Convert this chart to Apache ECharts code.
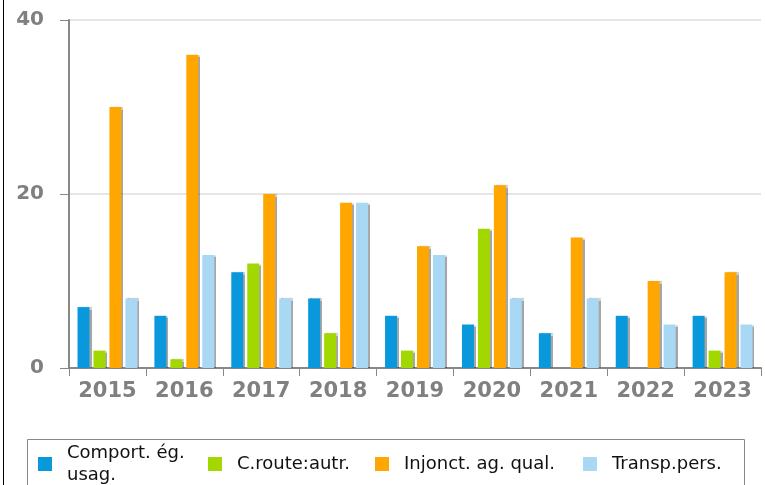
<!DOCTYPE html>
<html>
<head>
<meta charset="utf-8">
<script src="https://cdn.jsdelivr.net/npm/echarts@6/dist/echarts.min.js"></script>
<style>
  html, body { margin: 0; padding: 0; background: #fff; }
  #chart { width: 765px; height: 485px; }
</style>
</head>
<body>
<div id="chart"></div>
<script>
// data
const years = ['2015', '2016', '2017', '2018', '2019', '2020', '2021', '2022', '2023']
const comportEg = [7, 6, 11, 8, 6, 5, 4, 6, 6]
const crouteAutr = [2, 1, 12, 4, 2, 16, 0, 0, 2]
const injonctAg = [30, 36, 20, 19, 14, 21, 15, 10, 11]
const transpPers = [8, 13, 8, 19, 13, 8, 8, 5, 5]
const yTicks = [0, 20, 40]

const names = ['Comport. ég.\nusag.', 'C.route:autr.', 'Injonct. ag. qual.', 'Transp.pers.']
const colors = ['#0a98dc', '#a2d800', '#ffa600', '#a8d8f4']
const seriesData = [comportEg, crouteAutr, injonctAg, transpPers]
// legend icon x positions
const legendLeft = [38, 208, 375, 583]

const chart = echarts.init(document.getElementById('chart'), null, { renderer: 'canvas' })

const barStyle = (color) => ({
  color: color,
  shadowColor: 'rgba(0,0,0,0.35)',
  shadowOffsetX: 2,
  shadowOffsetY: 0,
  shadowBlur: 1
})

const legends = names.map((n, i) => ({
  left: legendLeft[i],
  top: n.includes('\n') ? 442 : 453,
  padding: 0,
  itemWidth: 14,
  itemHeight: 14,
  icon: 'rect',
  data: [n],
  textStyle: { fontFamily: 'DejaVu Sans', fontSize: 18, color: '#111', lineHeight: 22, padding: [0, 0, 0, 10] }
}))

chart.setOption({
  animation: false,
  grid: { left: 69, right: 4, top: 20, bottom: 117 },
  legend: legends,
  graphic: [
    { type: 'line', shape: { x1: 3.5, y1: 0, x2: 3.5, y2: 485 }, style: { stroke: '#000', lineWidth: 1 } },
    { type: 'rect', shape: { x: 27.5, y: 439.5, width: 717, height: 60 }, style: { fill: 'none', stroke: '#888', lineWidth: 1 }, z: -1 }
  ],
  xAxis: {
    type: 'category',
    data: years,
    axisLine: { lineStyle: { color: '#888', width: 2 } },
    axisTick: { show: true, length: 8, lineStyle: { color: '#888', width: 1 } },
    axisLabel: { margin: 13, fontFamily: 'DejaVu Sans', fontWeight: 'bold', fontSize: 21, color: '#808080' }
  },
  yAxis: {
    type: 'value',
    min: 0,
    max: 40,
    interval: 20,
    axisLine: { show: true, lineStyle: { color: '#888', width: 2 } },
    axisTick: { show: true, length: 9, lineStyle: { color: '#888', width: 1 } },
    splitLine: { lineStyle: { color: '#e6e6e6', width: 2 } },
    axisLabel: {
      margin: 25,
      fontFamily: 'DejaVu Sans',
      fontWeight: 'bold',
      fontSize: 20,
      color: '#808080',
      formatter: (v) => (yTicks.includes(v) ? String(v) : '')
    }
  },
  series: seriesData.map((d, i) => ({
    name: names[i],
    type: 'bar',
    data: d,
    barWidth: 12,
    barGap: '33%',
    itemStyle: barStyle(colors[i])
  }))
})
</script>
</body>
</html>
